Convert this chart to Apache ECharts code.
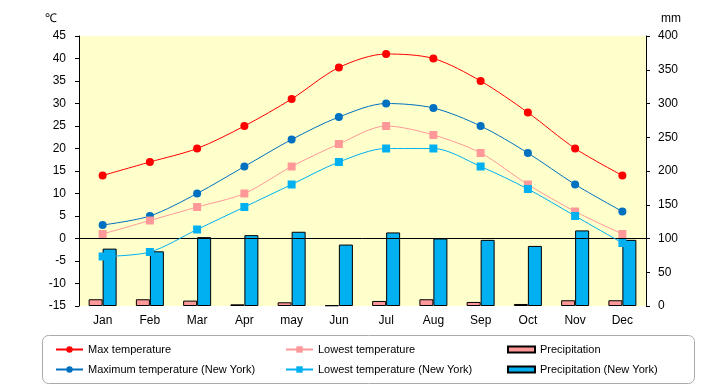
<!DOCTYPE html>
<html><head><meta charset="utf-8">
<script src="https://cdn.jsdelivr.net/npm/echarts@6/dist/echarts.min.js"></script>
<style>html,body{margin:0;padding:0;background:#fff}#c{width:720px;height:385px}</style>
</head><body><div id="c"></div>
<script>
const months = ['Jan','Feb','Mar','Apr','may','Jun','Jul','Aug','Sep','Oct','Nov','Dec'];
const maxTemp = [14,17,20,25,31,38,41,40,35,28,20,14];
const lowTemp = [1,4,7,10,16,21,25,23,19,12,6,1];
const nyMaxTemp = [3,5,10,16,22,27,30,29,25,19,12,6];
const nyLowTemp = [-4,-3,2,7,12,17,20,20,16,11,5,-1];
const precip = [10,10,8,2.5,5.5,1,7.5,10,6,3,8.5,8.5];
const nyPrecip = [85,81,102,105,110,91,109,100,98,89,112,98];

const names = ['Max temperature','Maximum temperature (New York)','Lowest temperature','Lowest temperature (New York)','Precipitation','Precipitation (New York)'];
const font = 'Liberation Sans, Arial, sans-serif';
const chart = echarts.init(document.getElementById('c'));
const lineS = (name, data, color, sym) => ({
  name, type:'line', data, yAxisIndex:0, smooth:0.3, symbol:sym, symbolSize:8,
  lineStyle:{color, width:1}, itemStyle:{color}, z:5
});
const legText = {fontSize:11, color:'#000', fontFamily:font};
chart.setOption({
  animation:false,
  textStyle:{fontFamily:font},
  grid:{left:79, right:74, top:36, bottom:79, show:true, backgroundColor:'#FFFFCC', borderWidth:0},
  xAxis:{type:'category', data:months, axisLine:{show:false}, axisTick:{show:false},
    axisLabel:{color:'#000', fontSize:12, margin:9, fontFamily:font}},
  yAxis:[
    {type:'value', min:-15, max:45, interval:5, name:'℃', nameLocation:'end', nameGap:11,
     nameTextStyle:{color:'#000', fontSize:12, align:'right', padding:[0,22,0,0]},
     axisLine:{show:true, lineStyle:{color:'#000'}}, axisTick:{show:true, length:4, lineStyle:{color:'#000'}},
     axisLabel:{color:'#000', fontSize:12, margin:13}, splitLine:{show:false}},
    {type:'value', min:0, max:400, interval:50, name:'mm', nameLocation:'end', nameGap:11,
     nameTextStyle:{color:'#000', fontSize:12, align:'left', padding:[0,0,0,15]},
     axisLine:{show:true, lineStyle:{color:'#000'}}, axisTick:{show:true, length:4, lineStyle:{color:'#000'}},
     axisLabel:{color:'#000', fontSize:12, margin:12}, splitLine:{show:false}}
  ],
  legend:[
    {left:50, top:339, orient:'vertical', itemGap:9, itemWidth:27, itemHeight:8, data:[names[0],names[1]], textStyle:legText},
    {left:280, top:339, orient:'vertical', itemGap:9, itemWidth:27, itemHeight:8, data:[names[2],names[3]], textStyle:legText},
    {left:502, top:339, orient:'vertical', itemGap:9, itemWidth:27, itemHeight:6, icon:'rect', data:[names[4],names[5]], textStyle:legText}
  ],
  graphic:[{type:'rect', left:40, top:333, shape:{width:652, height:48, r:6}, style:{fill:'none', stroke:'#aaa', lineWidth:1}, z:-1}],
  series:[
    {name:names[4], type:'bar', yAxisIndex:1, data:precip, barWidth:14, barGap:'0%',
     itemStyle:{color:'#FF9999', borderColor:'#000', borderWidth:1}, z:2},
    {name:names[5], type:'bar', yAxisIndex:1, data:nyPrecip, barWidth:14, barGap:'0%',
     itemStyle:{color:'#00B0F0', borderColor:'#000', borderWidth:1}, z:2,
     markLine:{silent:true, symbol:'none', label:{show:false}, lineStyle:{color:'#000', type:'solid', width:1},
       data:[{yAxis:100}]}},
    lineS(names[0], maxTemp, '#FF0000', 'circle'),
    lineS(names[1], nyMaxTemp, '#0070C0', 'circle'),
    lineS(names[2], lowTemp, '#FF9999', 'rect'),
    lineS(names[3], nyLowTemp, '#00B0F0', 'rect')
  ]
});
</script></body></html>
